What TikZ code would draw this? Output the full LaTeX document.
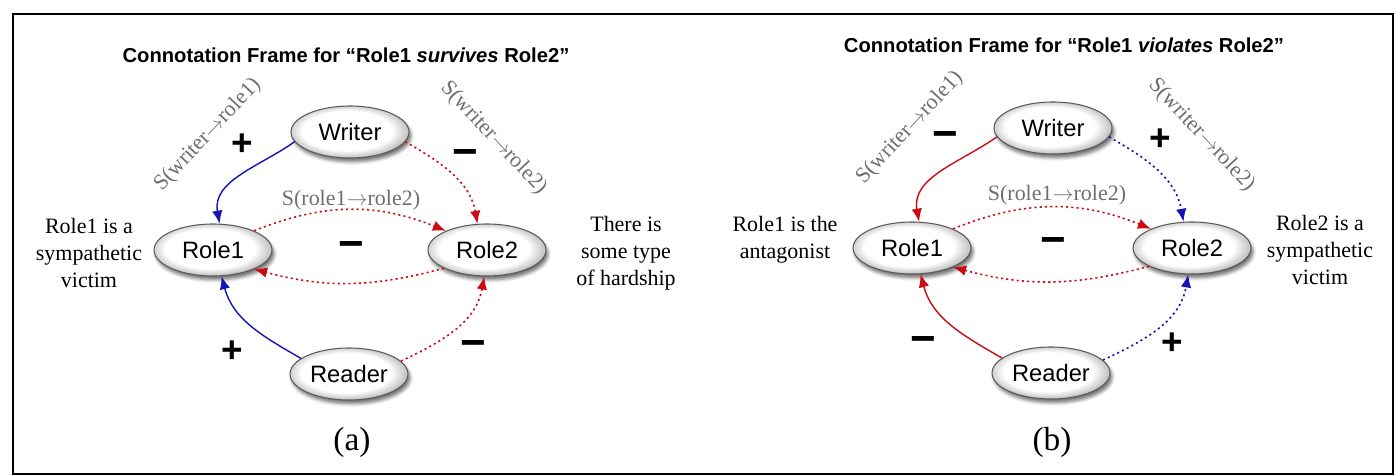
\documentclass[tikz,border=0pt]{standalone}
\usepackage{fontspec}
\setmainfont{Liberation Serif}
\setsansfont{Liberation Sans}
\usetikzlibrary{arrows.meta, shapes.geometric, shadows.blur}
\definecolor{FrameBlue}{HTML}{1414B4}
\definecolor{FrameRed}{HTML}{CC0A14}
\definecolor{LabelGray}{HTML}{6E6E6E}
\definecolor{RimGray}{HTML}{5A5A5A}
\pgfdeclareradialshading{rimshade}{\pgfpoint{-2bp}{2bp}}{color(0bp)=(white); color(19bp)=(white); color(25bp)=(black!22); color(50bp)=(black!22)}
\newcommand{\towards}{\ensuremath{\rightarrow}}

\begin{document}
\begin{tikzpicture}[x=0.02cm, y=0.02cm,
    entity/.style={ellipse, draw=RimGray, line width=0.6pt, shading=rimshade,
        blur shadow={shadow xshift=1.2pt, shadow yshift=-2.2pt, shadow opacity=55},
        minimum width=2.36cm, minimum height=1.04cm, inner sep=0pt,
        font=\sffamily\fontsize{13.5}{15}\selectfont},
    solidarc/.style={-{Latex[length=2.6mm,width=2.1mm]}, line width=0.8pt},
    dotarc/.style={-{Latex[length=2.6mm,width=2.1mm]}, line width=0.9pt, dash pattern=on 1.2pt off 1.8pt},
    sign/.style={font=\sffamily\bfseries\fontsize{21}{21}\selectfont},
    negsign/.style={font=\sffamily\bfseries\fontsize{25}{25}\selectfont},
    arclabel/.style={text=LabelGray, font=\fontsize{12.5}{14}\selectfont},
    gloss/.style={align=center, font=\fontsize{12.5}{15.3}\selectfont},
    heading/.style={font=\sffamily\bfseries\fontsize{11.5}{13}\selectfont},
    panelcap/.style={font=\fontsize{19}{22}\selectfont}]
    \useasboundingbox (0,0) rectangle (1396,476);
    \draw[line width=0.6pt] (13,2) rectangle (1393,462);

    % (a) survives
    \node[heading] (titleA) at (346,421) {Connotation Frame for “Role1 \textit{survives} Role2”};
    \node[entity] (writerA) at (350,344) {Writer};
    \node[entity] (roleoneA) at (213,226) {Role1};
    \node[entity] (roletwoA) at (487,226) {Role2};
    \node[entity] (readerA) at (349,102) {Reader};
    \node[panelcap] (capA) at (352,34) {(a)};
    \node[gloss] (glossoneA) at (89,223) {Role1 is a\\sympathetic\\victim};
    \node[gloss] (glosstwoA) at (626,223) {There is\\some type\\of hardship};

    \draw[solidarc, FrameBlue] (writerA.190) to[out=215, in=100] (roleoneA.76);
    \draw[dotarc, FrameRed] (writerA.350) to[out=-30, in=100] (roletwoA.110);
    \draw[dotarc, FrameRed] (roleoneA.25) to[out=22, in=158] (roletwoA.155);
    \draw[dotarc, FrameRed] (roletwoA.203) to[out=195, in=-15] (roleoneA.335);
    \draw[solidarc, FrameBlue] (readerA.162) to[out=150, in=-75] (roleoneA.288);
    \draw[dotarc, FrameRed] (readerA.14) to[out=25, in=-100] (roletwoA.264);

    \node[arclabel, rotate=47] (swoneA) at (208,341) {S(writer\towards role1)};
    \node[arclabel, rotate=-47] (swtwoA) at (494,338) {S(writer\towards role2)};
    \node[arclabel] (srrA) at (351,276) {S(role1\towards role2)};
    \node[sign] (swoneAsign) at (242,331) {+};
    \node[negsign] (swtwoAsign) at (465,318) {−};
    \node[negsign] (srrAsign) at (351,226) {−};
    \node[sign] (sroneAsign) at (232,124) {+};
    \node[negsign] (srtwoAsign) at (473,127) {−};

    % (b) violates
    \node[heading] (titleB) at (1064,431) {Connotation Frame for “Role1 \textit{violates} Role2”};
    \node[entity] (writerB) at (1053,348) {Writer};
    \node[entity] (roleoneB) at (912,228) {Role1};
    \node[entity] (roletwoB) at (1192,228) {Role2};
    \node[entity] (readerB) at (1051,103) {Reader};
    \node[panelcap] (capB) at (1052,34) {(b)};
    \node[gloss] (glossoneB) at (785,236) {Role1 is the\\antagonist};
    \node[gloss] (glosstwoB) at (1320,226) {Role2 is a\\sympathetic\\victim};

    \draw[solidarc, FrameRed] (writerB.189) to[out=215, in=100] (roleoneB.75);
    \draw[dotarc, FrameBlue] (writerB.351) to[out=-30, in=100] (roletwoB.108);
    \draw[dotarc, FrameRed] (roleoneB.25) to[out=22, in=158] (roletwoB.155);
    \draw[dotarc, FrameRed] (roletwoB.203) to[out=195, in=-15] (roleoneB.335);
    \draw[solidarc, FrameRed] (readerB.163) to[out=150, in=-75] (roleoneB.288);
    \draw[dotarc, FrameBlue] (readerB.14) to[out=25, in=-100] (roletwoB.262);

    \node[arclabel, rotate=47] (swoneB) at (910,348) {S(writer\towards role1)};
    \node[arclabel, rotate=-47] (swtwoB) at (1202,341) {S(writer\towards role2)};
    \node[arclabel] (srrB) at (1057,281) {S(role1\towards role2)};
    \node[negsign] (swoneBsign) at (945,336) {−};
    \node[sign] (swtwoBsign) at (1160,336) {+};
    \node[negsign] (srrBsign) at (1053,230) {−};
    \node[negsign] (sroneBsign) at (923,131) {−};
    \node[sign] (srtwoBsign) at (1172,132) {+};
\end{tikzpicture}
\end{document}
